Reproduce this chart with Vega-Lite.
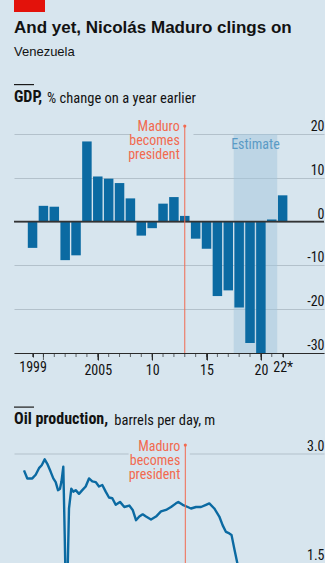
{
  "$schema": "https://vega.github.io/schema/vega-lite/v6.json",
  "background": "#d7e5ee",
  "padding": {"left": 13, "top": 0, "right": 0, "bottom": 0},
  "config": {
    "view": {"stroke": null},
    "font": "Roboto Condensed",
    "axis": {"labelFont": "Roboto Condensed", "labelFontSize": 14, "labelColor": "#121212", "title": null},
    "title": {"anchor": "start", "frame": "bounds", "color": "#121212"}
  },
  "datasets": {
    "gdp": [
      {"year": 1999, "value": -6.0}, {"year": 2000, "value": 3.6}, {"year": 2001, "value": 3.4},
      {"year": 2002, "value": -8.8}, {"year": 2003, "value": -7.7}, {"year": 2004, "value": 18.3},
      {"year": 2005, "value": 10.3}, {"year": 2006, "value": 9.8}, {"year": 2007, "value": 8.8},
      {"year": 2008, "value": 5.3}, {"year": 2009, "value": -3.2}, {"year": 2010, "value": -1.5},
      {"year": 2011, "value": 4.1}, {"year": 2012, "value": 5.6}, {"year": 2013, "value": 1.3},
      {"year": 2014, "value": -3.9}, {"year": 2015, "value": -6.2}, {"year": 2016, "value": -17.0},
      {"year": 2017, "value": -15.7}, {"year": 2018, "value": -19.6}, {"year": 2019, "value": -27.7},
      {"year": 2020, "value": -30.0}, {"year": 2021, "value": 0.5}, {"year": 2022, "value": 6.0}
    ],
    "oil": [
      {"t": 1998.644, "mbd": 2.77}, {"t": 1998.938, "mbd": 2.66}, {"t": 1999.383, "mbd": 2.66},
      {"t": 1999.685, "mbd": 2.71}, {"t": 1999.979, "mbd": 2.80}, {"t": 2000.219, "mbd": 2.84},
      {"t": 2000.486, "mbd": 2.92}, {"t": 2000.718, "mbd": 2.86}, {"t": 2001.020, "mbd": 2.75},
      {"t": 2001.252, "mbd": 2.66}, {"t": 2001.465, "mbd": 2.61}, {"t": 2001.670, "mbd": 2.50},
      {"t": 2001.848, "mbd": 2.52}, {"t": 2001.981, "mbd": 2.62}, {"t": 2002.142, "mbd": 2.82},
      {"t": 2002.266, "mbd": 1.9}, {"t": 2002.409, "mbd": 0.7}, {"t": 2002.542, "mbd": 1.5},
      {"t": 2002.649, "mbd": 2.25}, {"t": 2002.854, "mbd": 2.52}, {"t": 2003.032, "mbd": 2.48},
      {"t": 2003.245, "mbd": 2.50}, {"t": 2003.539, "mbd": 2.45}, {"t": 2003.833, "mbd": 2.50},
      {"t": 2004.135, "mbd": 2.55}, {"t": 2004.429, "mbd": 2.66}, {"t": 2004.723, "mbd": 2.62},
      {"t": 2005.025, "mbd": 2.61}, {"t": 2005.319, "mbd": 2.55}, {"t": 2005.613, "mbd": 2.57},
      {"t": 2005.915, "mbd": 2.48}, {"t": 2006.209, "mbd": 2.40}, {"t": 2006.503, "mbd": 2.39},
      {"t": 2006.805, "mbd": 2.30}, {"t": 2007.188, "mbd": 2.34}, {"t": 2007.571, "mbd": 2.27},
      {"t": 2008.016, "mbd": 2.29}, {"t": 2008.318, "mbd": 2.23}, {"t": 2008.612, "mbd": 2.09},
      {"t": 2008.906, "mbd": 2.14}, {"t": 2009.208, "mbd": 2.17}, {"t": 2009.502, "mbd": 2.14},
      {"t": 2009.947, "mbd": 2.10}, {"t": 2010.392, "mbd": 2.14}, {"t": 2010.837, "mbd": 2.21},
      {"t": 2011.282, "mbd": 2.23}, {"t": 2011.727, "mbd": 2.27}, {"t": 2012.172, "mbd": 2.32},
      {"t": 2012.377, "mbd": 2.34}, {"t": 2012.768, "mbd": 2.30}, {"t": 2013.213, "mbd": 2.27},
      {"t": 2013.507, "mbd": 2.25}, {"t": 2013.952, "mbd": 2.27}, {"t": 2014.397, "mbd": 2.27},
      {"t": 2014.842, "mbd": 2.30}, {"t": 2015.136, "mbd": 2.32}, {"t": 2015.581, "mbd": 2.25},
      {"t": 2016.026, "mbd": 2.14}, {"t": 2016.328, "mbd": 2.02}, {"t": 2016.622, "mbd": 1.93},
      {"t": 2016.916, "mbd": 1.91}, {"t": 2017.112, "mbd": 1.89}, {"t": 2017.361, "mbd": 1.70},
      {"t": 2017.664, "mbd": 1.48}, {"t": 2018.0, "mbd": 1.30}, {"t": 2018.5, "mbd": 1.10},
      {"t": 2019.0, "mbd": 0.85}, {"t": 2019.5, "mbd": 0.75}, {"t": 2020.0, "mbd": 0.55},
      {"t": 2020.5, "mbd": 0.45}, {"t": 2021.0, "mbd": 0.55}, {"t": 2021.5, "mbd": 0.65}
    ],
    "estimate": [{"start": 2017.5, "end": 2021.5, "mid": 2019.5, "label": "Estimate"}],
    "maduro": [{"year": 2013, "label": ["Maduro", "becomes", "president"]}]
  },
  "spacing": 29.5,
  "vconcat": [
    {
      "spacing": 24,
      "vconcat": [
        {
          "width": 31, "height": 12,
          "view": {"fill": "#e3120b", "stroke": null},
          "data": {"values": []},
          "mark": "point",
          "title": {
            "text": "And yet, Nicolás Maduro clings on",
            "subtitle": "Venezuela",
            "orient": "bottom", "anchor": "start",
            "font": "Liberation Sans", "fontSize": 17, "fontWeight": "bold",
            "subtitleFont": "Liberation Sans", "subtitleFontSize": 13, "subtitleColor": "#121212",
            "subtitlePadding": 9.5, "offset": 7.6
          }
        },
        {
          "spacing": -15,
          "vconcat": [
            {
              "width": 20, "height": 1.2,
              "view": {"fill": "#1a1a1a", "stroke": null},
              "data": {"values": []},
              "mark": "point",
              "title": {"text": "GDP,", "orient": "bottom", "anchor": "start", "font": "Roboto Condensed", "fontSize": 16, "fontWeight": "bold", "offset": 3.7}
            },
            {
              "width": 310, "height": 219,
              "title": {"text": "% change on a year earlier", "orient": "top", "anchor": "start", "dx": 34, "font": "Roboto Condensed", "fontSize": 14.5, "fontWeight": "normal", "offset": 13.3},
              "layer": [
                {
                  "data": {"name": "estimate"},
                  "mark": {"type": "rect", "color": "#a3c6dc", "opacity": 0.5},
                  "encoding": {
                    "x": {"field": "start", "type": "quantitative", "scale": {"domain": [1997.754, 2025.344], "nice": false, "zero": false},
                      "axis": {"orient": "bottom", "values": [1999, 2005, 2010, 2015, 2020, 2022],
                        "labelExpr": "datum.value == 1999 ? '1999' : datum.value == 2005 ? '2005' : datum.value == 2010 ? '10' : datum.value == 2015 ? '15' : datum.value == 2020 ? '20' : '22*'",
                        "domain": true, "domainColor": "#2a2a2a", "domainWidth": 1,
                        "ticks": true, "tickColor": "#2a2a2a", "tickWidth": 1,
                        "tickSize": {"condition": {"test": "datum.value % 5 === 0", "value": 7}, "value": 4},
                        "labelPadding": 3, "grid": false, "labelOverlap": false, "labelFlush": false, "labelBound": false}},
                    "x2": {"field": "end"},
                    "y": {"datum": 20, "type": "quantitative", "scale": {"domain": [-30, 20], "nice": false, "zero": false},
                      "axis": {"orient": "right", "values": [-30, -20, -10, 0, 10, 20], "labelExpr": "'' + datum.value",
                        "ticks": false, "domain": false, "grid": true, "gridColor": "#b3c1cb", "gridWidth": 1,
                        "labelAlign": "right", "labelBaseline": "alphabetic", "labelPadding": 0, "labelOffset": -3.5, "labelFlush": false, "labelBound": false, "labelOverlap": false}},
                    "y2": {"datum": -30}
                  }
                },
                {
                  "data": {"name": "maduro"},
                  "mark": {"type": "rule", "color": "#d7e5ee", "strokeWidth": 3},
                  "encoding": {"x": {"datum": 2008.0}, "x2": {"datum": 2013.8}, "y": {"datum": 20}}
                },
                {
                  "data": {"name": "gdp"},
                  "mark": {"type": "tick", "orient": "vertical", "size": 4, "thickness": 1, "color": "#2a2a2a", "yOffset": 2, "clip": false},
                  "encoding": {"x": {"field": "year", "type": "quantitative"}, "y": {"datum": -30}}
                },
                {
                  "data": {"name": "gdp"},
                  "transform": [{"filter": "datum.year % 5 === 0"}],
                  "mark": {"type": "tick", "orient": "vertical", "size": 7, "thickness": 1, "color": "#2a2a2a", "yOffset": 3.5, "clip": false},
                  "encoding": {"x": {"field": "year", "type": "quantitative"}, "y": {"datum": -30}}
                },
                {
                  "data": {"name": "gdp"},
                  "mark": {"type": "bar", "color": "#0b6aa2", "size": 9.5},
                  "encoding": {
                    "x": {"field": "year", "type": "quantitative"},
                    "y": {"field": "value", "type": "quantitative"},
                    "y2": {"datum": 0}
                  }
                },
                {
                  "data": {"name": "maduro"},
                  "mark": {"type": "rule", "color": "#333333", "strokeWidth": 1.8},
                  "encoding": {"y": {"datum": 0}}
                },
                {
                  "data": {"name": "maduro"},
                  "mark": {"type": "rule", "color": "#f26a4f", "strokeWidth": 1},
                  "encoding": {"x": {"field": "year", "type": "quantitative"}, "y": {"datum": -30}, "y2": {"datum": 21.8}}
                },
                {
                  "data": {"name": "maduro"},
                  "mark": {"type": "point", "filled": true, "color": "#f26a4f", "size": 10, "opacity": 1},
                  "encoding": {"x": {"field": "year", "type": "quantitative"}, "y": {"datum": 21.8}}
                },
                {
                  "data": {"name": "maduro"},
                  "mark": {"type": "text", "color": "#f26a4f", "align": "right", "baseline": "alphabetic", "dx": -5, "dy": 5, "fontSize": 14, "lineHeight": 14, "font": "Roboto Condensed"},
                  "encoding": {"x": {"field": "year", "type": "quantitative"}, "y": {"datum": 21.8}, "text": {"field": "label"}}
                },
                {
                  "data": {"name": "estimate"},
                  "mark": {"type": "text", "color": "#5b9bc5", "align": "center", "baseline": "alphabetic", "dy": 15.3, "fontSize": 14, "font": "Roboto Condensed"},
                  "encoding": {"x": {"field": "mid", "type": "quantitative"}, "y": {"datum": 20}, "text": {"field": "label"}}
                }
              ]
            }
          ]
        }
      ]
    },
    {
      "spacing": -15,
      "vconcat": [
        {
          "width": 20, "height": 1.2,
          "view": {"fill": "#1a1a1a", "stroke": null},
          "data": {"values": []},
          "mark": "point",
          "title": {"text": "Oil production,", "orient": "bottom", "anchor": "start", "font": "Roboto Condensed", "fontSize": 16, "fontWeight": "bold", "offset": 3.7}
        },
        {
          "width": 310, "height": 111.3,
          "title": {"text": "barrels per day, m", "orient": "top", "anchor": "start", "dx": 100.3, "font": "Roboto Condensed", "fontSize": 14.5, "fontWeight": "normal", "offset": 10.3},
          "layer": [
            {
              "data": {"name": "maduro"},
              "mark": {"type": "rule", "color": "#d7e5ee", "strokeWidth": 3},
              "encoding": {
                "x": {"datum": 2007.95, "type": "quantitative", "scale": {"domain": [1997.754, 2025.344], "nice": false, "zero": false}},
                "x2": {"datum": 2013.4},
                "y": {"datum": 3.0, "type": "quantitative", "scale": {"domain": [1.482, 3.0], "nice": false, "zero": false},
                  "axis": {"orient": "right", "values": [1.5, 2.0, 2.5, 3.0], "format": ".1f",
                    "ticks": false, "domain": false, "grid": true, "gridColor": "#b3c1cb", "gridWidth": 1,
                    "labelAlign": "right", "labelBaseline": "alphabetic", "labelPadding": 0, "labelOffset": -3.5, "labelFlush": false, "labelBound": false}}
              }
            },
            {
              "data": {"name": "oil"},
              "mark": {"type": "line", "color": "#0b6aa2", "strokeWidth": 2.4, "clip": true, "strokeJoin": "round"},
              "encoding": {
                "x": {"field": "t", "type": "quantitative", "axis": null},
                "y": {"field": "mbd", "type": "quantitative"}
              }
            },
            {
              "data": {"name": "maduro"},
              "mark": {"type": "rule", "color": "#f26a4f", "strokeWidth": 1},
              "encoding": {"x": {"field": "year", "type": "quantitative"}, "y": {"datum": 1.482}, "y2": {"datum": 3.115}}
            },
            {
              "data": {"name": "maduro"},
              "mark": {"type": "point", "filled": true, "color": "#f26a4f", "size": 10, "opacity": 1},
              "encoding": {"x": {"field": "year", "type": "quantitative"}, "y": {"datum": 3.115}}
            },
            {
              "data": {"name": "maduro"},
              "mark": {"type": "text", "color": "#f26a4f", "align": "right", "baseline": "alphabetic", "dx": -5, "dy": 5.5, "fontSize": 14, "lineHeight": 14, "font": "Roboto Condensed"},
              "encoding": {"x": {"field": "year", "type": "quantitative"}, "y": {"datum": 3.115}, "text": {"field": "label"}}
            }
          ]
        }
      ]
    }
  ]
}
